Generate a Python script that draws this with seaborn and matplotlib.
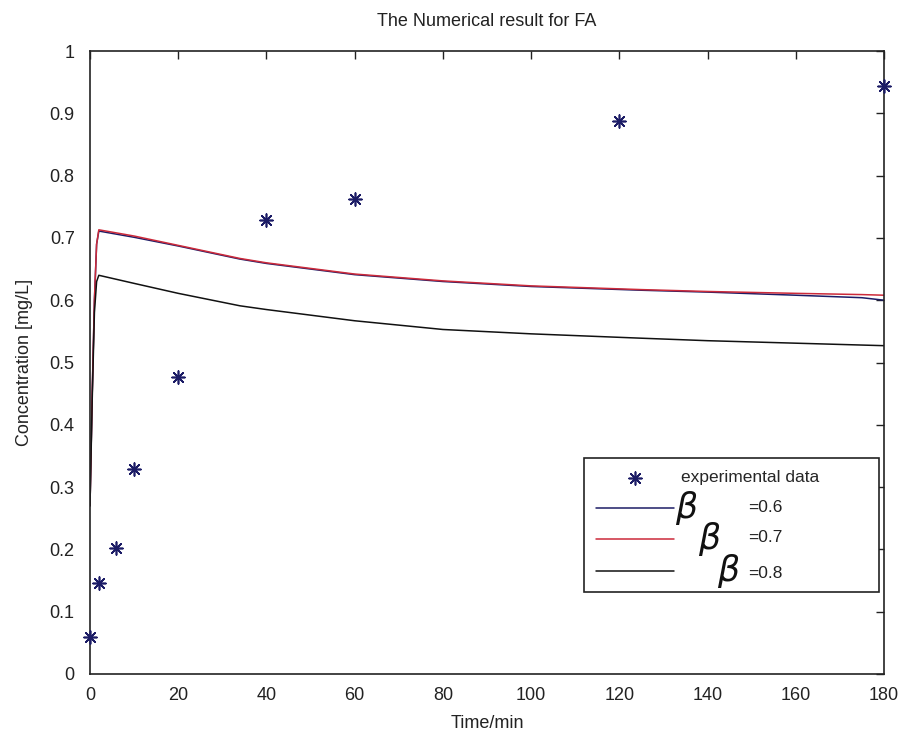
import matplotlib
matplotlib.use("Agg")
import matplotlib.pyplot as plt
import seaborn as sns
import numpy as np
import pandas as pd

# ---- data ----
t_exp = [0, 2, 6, 10, 20, 40, 60, 120, 180]
c_exp = [0.060, 0.146, 0.203, 0.329, 0.476, 0.728, 0.762, 0.888, 0.944]

t_model = [0, 0.5, 1, 1.5, 2, 10, 20, 34, 40, 60, 80, 100, 125, 140, 160, 175, 180]
c_b06 = [0.27, 0.45, 0.60, 0.69, 0.711, 0.701, 0.687, 0.666, 0.659, 0.641, 0.630, 0.622, 0.616, 0.613, 0.608, 0.604, 0.600]
c_b07 = [0.27, 0.45, 0.60, 0.69, 0.713, 0.703, 0.688, 0.667, 0.660, 0.642, 0.631, 0.623, 0.617, 0.614, 0.611, 0.609, 0.608]
c_b08 = [0.27, 0.44, 0.58, 0.63, 0.640, 0.627, 0.611, 0.591, 0.585, 0.567, 0.553, 0.546, 0.539, 0.535, 0.531, 0.528, 0.527]

x_ticks = [0, 20, 40, 60, 80, 100, 120, 140, 160, 180]
y_ticks = [0, 0.1, 0.2, 0.3, 0.4, 0.5, 0.6, 0.7, 0.8, 0.9, 1.0]
y_tick_labels = ["0", "0.1", "0.2", "0.3", "0.4", "0.5", "0.6", "0.7", "0.8", "0.9", "1"]
beta_values = ["=0.6", "=0.7", "=0.8"]

sns.set_style("white")
plt.rcParams['font.family'] = ['Liberation Sans Narrow', 'Liberation Sans', 'DejaVu Sans']
plt.rcParams['mathtext.fontset'] = 'dejavusans'

NAVY = '#1c1c66'
RED = '#cc2a3a'
BLACK = '#111111'

fig = plt.figure(figsize=(9.04, 7.36), dpi=100)
ax = fig.add_axes([90/904, 62/736, 794/904, 623/736])

sns.lineplot(x=t_model, y=c_b06, ax=ax, color=NAVY, linewidth=1.1, sort=False, label="b06")
sns.lineplot(x=t_model, y=c_b07, ax=ax, color=RED, linewidth=1.1, sort=False, label="b07")
sns.lineplot(x=t_model, y=c_b08, ax=ax, color=BLACK, linewidth=1.1, sort=False, label="b08")
sns.scatterplot(x=t_exp, y=c_exp, ax=ax, marker=(8, 2, 0), s=85, color=NAVY,
                linewidth=1.2, edgecolor=NAVY, label="experimental data", zorder=5, clip_on=False)

ax.set_xlim(0, 180)
ax.set_ylim(0, 1)
ax.set_xticks(x_ticks)
ax.set_xticklabels([str(v) for v in x_ticks])
ax.set_yticks(y_ticks)
ax.set_yticklabels(y_tick_labels)
ax.tick_params(direction='in', length=6, width=1, top=True, right=True,
               labelsize=13, colors='#222222')
ax.tick_params(axis='x', pad=9)
ax.tick_params(axis='y', pad=11)
for s in ax.spines.values():
    s.set_linewidth(1.2)
    s.set_color('#222222')
    s.set_visible(True)

ax.set_title("The Numerical result for FA", fontsize=13, pad=18, color='#222222')
ax.set_xlabel("Time/min", fontsize=13, labelpad=8, color='#222222')
ax.set_ylabel("Concentration [mg/L]", fontsize=13, labelpad=12, color='#222222')

handles, labels = ax.get_legend_handles_labels()
order = [3, 0, 1, 2]
hs = [handles[i] for i in order]
leg = ax.legend(hs, ["experimental data", " ", " ", " "],
                loc='upper left', bbox_to_anchor=(0.622, 0.128, 0.372, 0.219),
                mode='expand', borderaxespad=0, fontsize=12.5, handlelength=4.5,
                handletextpad=0.4, labelspacing=0.95, borderpad=0.7,
                fancybox=False, framealpha=1, edgecolor='#222222')
leg.get_frame().set_linewidth(1.2)

def ax_xy(px, py):
    return (px - 90) / 794, (674 - py) / 623

beta_pos = [(687, 508), (710, 539), (729, 571)]
val_pos = [(748, 507), (748, 538), (748, 573)]
for (bx, by), (vx, vy), v in zip(beta_pos, val_pos, beta_values):
    x, y = ax_xy(bx, by)
    ax.text(x, y, r"$\mathit{\beta}$", transform=ax.transAxes, fontsize=25,
            ha='center', va='center', color='#111111', zorder=10)
    x, y = ax_xy(vx, vy)
    ax.text(x, y, v, transform=ax.transAxes, fontsize=12.5,
            ha='left', va='center', color='#222222', zorder=10)

fig.savefig("out.png", dpi=100, facecolor='white')
